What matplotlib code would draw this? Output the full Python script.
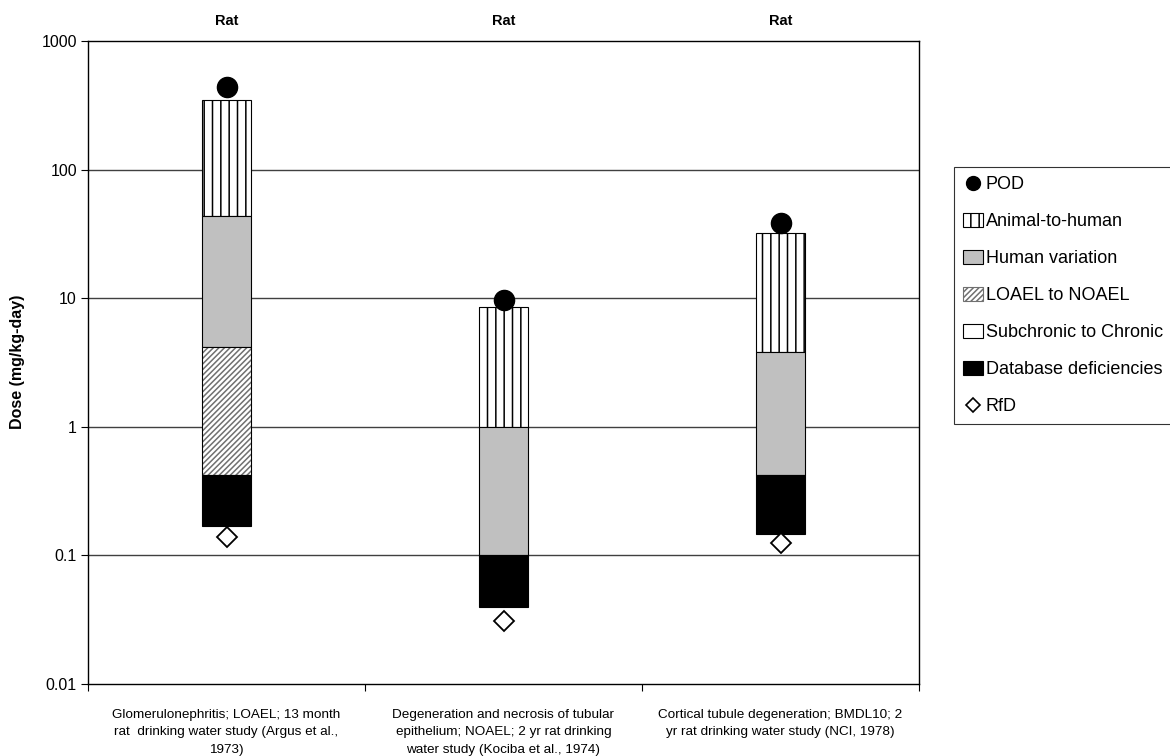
import matplotlib
matplotlib.use("Agg")
import matplotlib.pyplot as plt
import numpy as np
from matplotlib.patches import Patch
from matplotlib.lines import Line2D

plt.rcParams['font.family'] = ['Liberation Sans', 'DejaVu Sans']
plt.rcParams['hatch.linewidth'] = 1.1

categories = [
    "Glomerulonephritis; LOAEL; 13 month\nrat  drinking water study (Argus et al.,\n1973)",
    "Degeneration and necrosis of tubular\nepithelium; NOAEL; 2 yr rat drinking\nwater study (Kociba et al., 1974)",
    "Cortical tubule degeneration; BMDL10; 2\nyr rat drinking water study (NCI, 1978)",
]
species = ["Rat", "Rat", "Rat"]

pod = [437, 9.6, 38.6]
rfd = [0.14, 0.031, 0.124]
# stack boundaries (upper and lower edges of each uncertainty-factor segment)
animal_top = [350, 8.5, 32.0]
animal_bottom = [43.5, 1.0, 3.8]
human_bottom = [4.2, 0.1, 0.42]
loael_bottom = [0.42, np.nan, np.nan]
database_bottom = [0.17, 0.04, 0.146]

yticks = [0.01, 0.1, 1, 10, 100, 1000]
ytick_labels = ["0.01", "0.1", "1", "10", "100", "1000"]

fig = plt.figure(figsize=(11.7, 7.56), dpi=100)
ax = fig.add_axes([88/1170, 72/756, (919-88)/1170, (684-41)/756])

x = np.arange(1, len(categories) + 1)
w = 0.18
lw = 0.8

def seg(top, bottom, **kw):
    top = np.asarray(top, float)
    bottom = np.asarray(bottom, float)
    m = ~np.isnan(top) & ~np.isnan(bottom)
    return ax.bar(x[m], (top - bottom)[m], bottom=bottom[m], width=w, zorder=3, **kw)

# Animal-to-human (vertical hatch)
seg(animal_top, animal_bottom, facecolor='white', edgecolor='black', hatch='||', linewidth=0)
seg(animal_top, animal_bottom, fill=False, edgecolor='black', linewidth=lw)
# Human variation
seg(animal_bottom, human_bottom, facecolor='#c0c0c0', edgecolor='black', linewidth=lw)
# LOAEL to NOAEL (diagonal hatch, grey)
seg(human_bottom, loael_bottom, facecolor='white', edgecolor='#707070', hatch='//////', linewidth=0)
seg(human_bottom, loael_bottom, fill=False, edgecolor='black', linewidth=lw)
# Database deficiencies
db_top = [lb if not np.isnan(lb) else hb for lb, hb in zip(loael_bottom, human_bottom)]
seg(db_top, database_bottom, facecolor='black', edgecolor='black', linewidth=lw)

ax.plot(x, pod, 'o', color='black', markersize=14.5, zorder=4, linestyle='none')
ax.plot(x, rfd, 'D', markerfacecolor='white', markeredgecolor='black', markeredgewidth=1.3,
        markersize=10, zorder=4, linestyle='none')

ax.set_yscale('log')
ax.set_ylim(0.01, 1000)
ax.set_yticks(yticks)
ax.set_yticklabels(ytick_labels, fontsize=11.5)
ax.yaxis.set_minor_locator(matplotlib.ticker.NullLocator())
ax.tick_params(axis='y', which='major', direction='out', length=5, width=0.8, pad=3)

ax.set_xlim(0.5, len(categories) + 0.5)
ax.set_xticks(np.arange(0.5, len(categories) + 1, 1.0))
ax.set_xticklabels([])
ax.set_xticks(x, minor=True)
ax.set_xticklabels(categories, minor=True, fontsize=9.7, linespacing=1.6)
ax.tick_params(axis='x', which='major', direction='out', length=5, width=0.8)
ax.tick_params(axis='x', which='minor', length=0, pad=18)

for v in yticks[1:-1]:
    ax.axhline(v, color='#404040', linewidth=1.0, zorder=1)

for s in ax.spines.values():
    s.set_linewidth(1.0)
    s.set_color('black')

for xi, sp in zip(x, species):
    ax.text(xi, 1.0 + 20/643, sp, transform=ax.get_xaxis_transform(), ha='center', va='center',
            fontsize=10.5, fontweight='bold')

fig.text(18/1170, 1 - 362/756, "Dose (mg/kg-day)", rotation=90, ha='center', va='center',
         fontsize=11.5, fontweight='bold')

handles = [
    Line2D([], [], marker='o', color='black', linestyle='none', markersize=10),
    Patch(facecolor='white', edgecolor='black', hatch='||', linewidth=0.8),
    Patch(facecolor='#c0c0c0', edgecolor='black', linewidth=0.8),
    Patch(facecolor='white', edgecolor='#707070', hatch='//////', linewidth=0.8),
    Patch(facecolor='white', edgecolor='black', linewidth=0.8),
    Patch(facecolor='black', edgecolor='black', linewidth=0.8),
    Line2D([], [], marker='D', markerfacecolor='white', markeredgecolor='black',
           markeredgewidth=1.2, linestyle='none', markersize=7),
]
labels = ["POD", "Animal-to-human", "Human variation", "LOAEL to NOAEL",
          "Subchronic to Chronic", "Database deficiencies", "RfD"]
leg = fig.legend(handles, labels, loc='upper left', bbox_to_anchor=(954/1170, 1 - 167/756),
                 fontsize=13, frameon=True, fancybox=False, edgecolor='black',
                 handlelength=1.1, handleheight=0.8, handletextpad=0.15,
                 labelspacing=1.1, borderpad=0.5, borderaxespad=0)
leg.get_frame().set_linewidth(0.8)

fig.savefig("out.png", dpi=100)
